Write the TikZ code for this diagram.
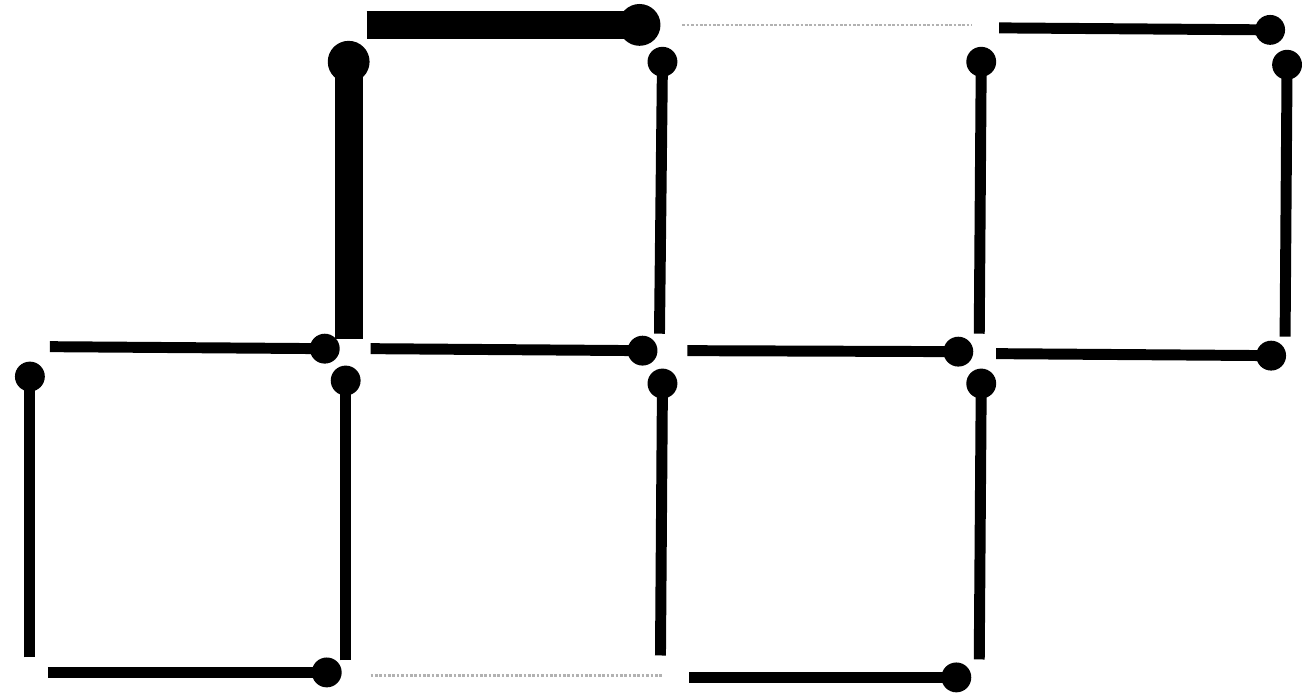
\documentclass[tikz,border=0pt]{standalone}
\usepackage{tikz}

\begin{document}
\begin{tikzpicture}[x=0.02cm,y=-0.02cm,
    head/.style={circle,fill=black,inner sep=0pt,minimum size=0.6cm},
    bighead/.style={circle,fill=black,inner sep=0pt,minimum size=0.84cm},
    stick/.style={line width=0.22cm},
    bigstick/.style={line width=0.56cm},
    removed/.style={gray!60,densely dotted,line width=1.5pt}]
  \fill[white] (0,0) rectangle (1302,702);
  \node[bighead] (hA) at (642,25) {};
  \node[bighead] (hB) at (350,62) {};
  \node[head] (h1) at (1275,30) {};
  \node[head] (h2) at (665,62) {};
  \node[head] (h3) at (985,62) {};
  \node[head] (h4) at (1292,65) {};
  \node[head] (h5) at (326,350) {};
  \node[head] (h6) at (645,352) {};
  \node[head] (h7) at (962,353) {};
  \node[head] (h8) at (1276,357) {};
  \node[head] (h9) at (30,378) {};
  \node[head] (h10) at (347,382) {};
  \node[head] (h11) at (665,385) {};
  \node[head] (h12) at (985,385) {};
  \node[head] (h13) at (328,675) {};
  \node[head] (h14) at (960,680) {};
  \coordinate (tA) at (368,25);
  \coordinate (tB) at (350,340);
  \coordinate (t1) at (1003,28);
  \coordinate (t2) at (662,335);
  \coordinate (t3) at (983,335);
  \coordinate (t4) at (1290,338);
  \coordinate (t5) at (50,348);
  \coordinate (t6) at (372,350);
  \coordinate (t7) at (690,352);
  \coordinate (t8) at (1000,355);
  \coordinate (t9) at (30,660);
  \coordinate (t10) at (347,663);
  \coordinate (t11) at (663,658);
  \coordinate (t12) at (983,662);
  \coordinate (t13) at (48,675);
  \coordinate (t14) at (692,680);
  \coordinate (r1) at (685,25);
  \coordinate (r2) at (975,25);
  \coordinate (r3) at (372,678);
  \coordinate (r4) at (665,678);
  \draw[bigstick] (tA) -- (hA.center);
  \draw[bigstick] (tB) -- (hB.center);
  \foreach \i in {1,...,14}
    \draw[stick] (t\i) -- (h\i.center);
  \draw[removed] (r1) -- (r2);
  \draw[removed] (r3) -- (r4);
\end{tikzpicture}
\end{document}
